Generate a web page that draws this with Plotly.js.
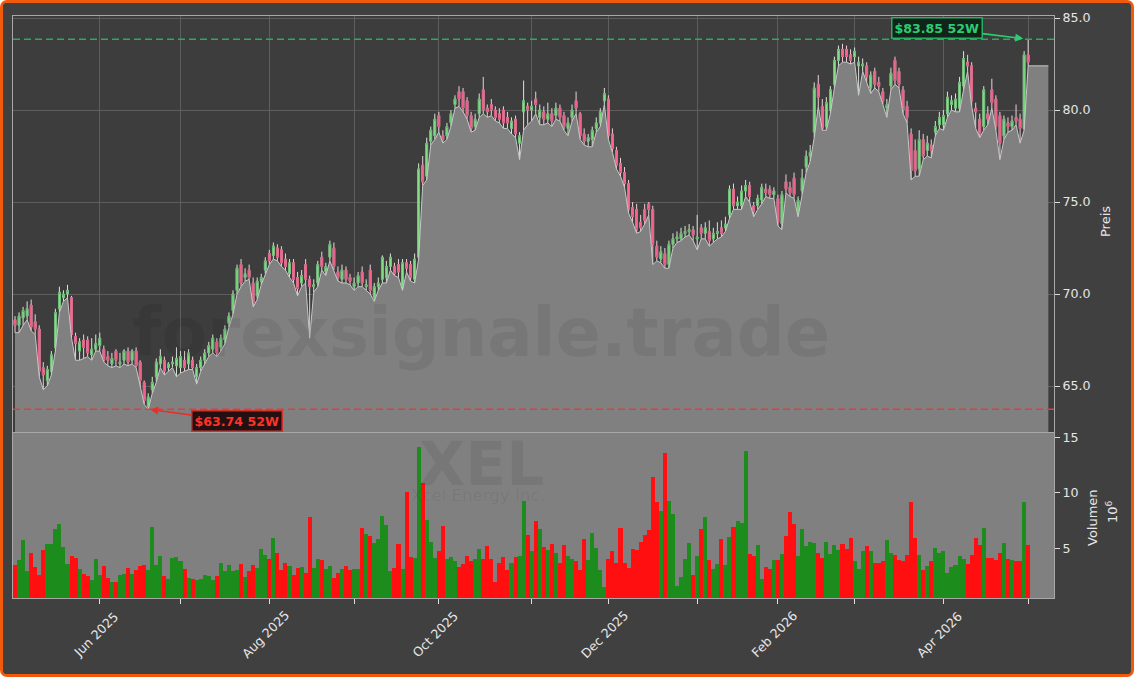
<!DOCTYPE html>
<html>
<head>
<meta charset="utf-8">
<script src="https://cdn.plot.ly/plotly-3.0.1.min.js"></script>
<style>
  html,body{margin:0;padding:0;background:#ffffff;}
  #wrap{width:1134px;height:677px;box-sizing:border-box;border:3px solid #f05a0a;border-radius:7px;background:#404040;overflow:hidden;}
  #chart{width:1128px;height:671px;}
</style>
</head>
<body>
<div id="wrap"><div id="chart"></div></div>
<script>
// ---- data (trading-day index 0 = 2025-05-01 ... 251 = 2026-05-01) ----
const openP = [
68.6,68.3,68.7,68.8,69.4,68.5,68.1,66.0,65.3,65.8,67.1,69.2,69.8,70.0,69.8,67.7,66.9,67.5,67.5,66.7,
67.0,67.2,67.0,66.6,66.2,66.9,66.2,66.4,66.9,66.4,66.9,66.3,65.2,63.9,64.8,65.5,66.2,66.4,66.0,66.2,
66.1,66.0,66.4,66.2,66.4,65.5,66.0,66.4,66.8,67.0,67.4,67.1,67.5,68.4,69.1,70.2,71.6,70.9,71.3,70.6,
69.9,70.7,71.3,72.2,72.1,72.5,72.4,71.9,71.1,71.7,70.9,70.6,71.6,70.8,70.4,70.6,72.0,71.2,72.0,72.5,
71.2,70.8,71.3,70.9,70.4,70.6,71.2,70.4,71.3,69.8,70.4,70.8,70.9,71.5,71.5,71.6,70.4,71.7,71.6,70.8,
72.0,77.0,76.4,78.3,78.6,79.7,78.6,78.6,79.3,80.3,81.0,81.0,80.5,79.7,79.1,79.8,81.1,80.1,80.3,80.0,
79.8,80.0,79.6,79.0,79.5,78.2,79.9,80.2,80.0,80.6,79.6,79.9,79.5,79.8,79.7,80.1,79.7,79.0,79.6,80.5,
79.8,78.7,78.3,78.4,79.0,79.3,80.5,80.6,78.7,77.8,77.1,76.6,76.0,74.7,74.6,73.9,74.6,74.9,74.6,72.6,
71.9,72.2,71.6,72.7,73.0,73.0,73.3,73.4,73.5,73.0,73.6,73.3,73.4,73.0,73.3,73.6,73.6,74.3,75.7,74.8,
74.8,75.6,75.9,74.8,74.8,75.1,75.7,75.7,75.4,75.2,73.8,76.1,75.8,76.3,74.4,75.6,76.9,77.5,78.8,81.4,
80.2,79.1,80.0,81.4,82.7,83.3,83.3,83.0,82.9,82.4,82.4,82.4,81.2,82.1,81.5,81.0,80.1,81.3,82.7,82.1,
81.1,80.2,78.7,77.8,76.8,78.4,77.8,78.1,78.8,79.2,79.2,79.8,80.3,80.1,80.1,81.3,82.6,82.4,80.1,79.5,
79.1,79.8,81.1,80.6,79.7,78.6,79.3,79.1,79.6,79.5,79.0,83.0];
const highP = [
68.8,69.0,69.3,69.6,69.7,68.9,68.3,66.3,66.1,66.9,69.2,70.4,70.2,70.5,69.9,67.9,67.6,67.8,67.7,67.6,
67.8,67.9,67.2,66.9,66.8,67.0,66.8,67.0,67.1,67.0,67.1,66.4,65.3,64.6,65.5,66.5,67.0,66.6,66.3,66.6,
67.1,66.9,66.9,67.0,66.6,66.2,66.6,67.0,67.4,67.8,67.6,67.8,68.3,69.0,70.2,71.6,71.9,71.4,71.6,70.9,
70.9,71.1,72.0,72.4,72.8,72.7,72.6,72.2,71.9,71.9,71.2,71.3,71.9,71.0,70.8,71.8,72.3,71.7,72.9,72.8,
71.5,71.6,71.5,71.1,70.9,71.2,71.5,70.8,71.6,70.6,70.9,72.1,71.8,72.2,71.7,71.9,71.9,71.9,71.8,72.2,
77.1,77.5,78.5,79.1,79.8,79.9,78.9,79.3,80.0,80.8,81.3,81.2,80.7,79.9,79.8,80.9,81.8,80.3,80.6,80.2,
80.1,80.2,79.9,79.6,79.7,78.8,81.6,80.4,80.5,81.0,80.3,80.2,80.4,80.1,80.4,80.3,79.9,79.6,80.3,81.0,
79.9,79.0,78.7,79.1,79.6,80.1,81.2,80.8,79.0,78.0,77.4,76.9,76.2,75.0,74.9,74.3,74.9,75.0,74.8,72.9,
72.6,72.5,72.9,73.3,73.4,73.6,73.7,73.8,73.7,74.3,73.8,73.9,74.0,73.6,73.9,74.0,74.2,75.9,76.0,75.3,
75.9,76.2,76.1,75.0,75.4,76.0,76.0,75.9,75.8,75.4,75.6,76.5,76.1,76.6,75.3,76.8,77.8,78.1,81.5,81.9,
80.6,80.7,81.3,82.9,83.5,83.6,83.5,83.3,83.4,82.9,82.8,82.6,82.1,82.3,81.8,81.2,80.6,82.3,82.9,82.3,
81.3,80.5,79.0,78.4,78.9,78.7,78.6,78.4,79.4,79.9,80.0,81.0,80.8,80.9,81.8,83.2,83.0,82.6,80.4,79.8,
81.3,80.2,81.7,80.8,79.9,79.7,79.6,79.7,80.3,79.8,83.2,83.85];
const lowP = [
67.9,67.9,68.3,68.6,68.0,67.8,65.5,64.8,65.0,65.6,66.9,69.0,69.6,69.8,67.6,66.4,66.4,66.5,66.6,66.4,
66.9,66.9,66.3,66.1,66.0,66.1,66.0,66.2,66.1,66.2,66.0,65.0,64.0,63.74,64.6,65.2,66.0,65.6,65.8,66.0,
65.5,65.7,65.8,65.9,65.9,65.1,65.8,66.2,66.6,66.8,66.6,66.9,67.3,68.2,68.9,70.0,70.4,70.7,70.8,69.3,
69.7,70.5,71.1,71.6,71.9,71.8,71.5,71.3,70.9,70.6,69.9,70.4,70.6,67.6,70.1,70.4,71.3,71.0,71.8,71.3,
70.7,70.6,70.6,70.5,70.2,70.4,70.4,70.2,70.0,69.6,70.2,70.6,70.6,71.3,71.0,70.9,70.2,71.2,70.7,70.6,
71.9,75.9,76.2,78.1,78.4,78.8,78.2,78.4,79.1,80.1,80.2,79.9,79.5,78.8,78.9,79.6,79.8,79.6,79.7,79.4,
79.3,79.0,79.0,78.7,78.5,77.3,78.9,79.2,79.4,79.8,79.2,79.2,79.3,79.1,79.5,79.4,78.9,78.6,79.4,79.8,
78.4,78.1,78.0,78.0,78.8,79.1,80.3,78.4,77.7,76.8,76.4,75.8,74.4,73.9,73.3,73.4,73.8,74.3,71.6,71.8,
71.7,71.4,71.4,72.5,72.8,72.9,73.1,73.2,72.9,72.4,73.0,73.0,72.6,72.8,73.0,73.1,73.4,74.1,74.6,74.6,
74.6,75.3,75.0,74.2,74.6,74.9,75.3,75.2,75.2,73.7,73.5,75.5,75.3,75.2,74.2,75.4,76.6,77.2,78.5,80.2,
78.9,78.9,79.8,81.2,82.4,82.6,82.6,82.5,82.6,80.8,82.1,81.5,80.9,81.2,81.0,80.3,79.6,81.1,81.4,81.2,
79.8,79.3,76.2,76.4,76.4,77.3,77.5,77.4,78.6,79.0,78.9,79.6,80.0,79.9,79.9,81.1,82.1,80.2,79.0,78.5,
78.9,79.2,80.1,78.9,77.3,78.4,78.8,78.9,79.2,78.2,78.9,82.4];
const closeP = [
68.3,68.8,69.1,69.2,68.2,68.1,65.8,65.6,65.9,66.7,69.0,70.1,70.0,70.2,67.8,67.3,67.4,67.1,66.8,67.0,
67.3,67.6,66.4,66.4,66.5,66.4,66.3,66.9,66.3,66.9,66.1,65.3,64.2,64.4,65.2,66.3,66.6,65.8,66.2,66.3,
66.5,66.6,66.0,66.8,66.0,66.0,66.4,66.8,67.2,67.6,66.8,67.6,68.1,68.8,70.0,71.4,70.6,71.1,70.9,69.5,
70.7,70.9,71.8,71.8,72.6,72.0,71.7,71.5,71.7,70.8,70.3,71.0,70.8,70.4,70.5,71.6,71.5,71.5,72.7,71.5,
70.9,71.3,70.8,70.7,70.6,71.0,70.6,70.5,70.2,70.4,70.6,72.0,71.5,72.0,71.1,71.2,71.7,71.4,70.9,71.9,
76.8,76.1,78.2,78.9,79.5,79.1,78.4,79.1,79.8,80.6,80.6,80.1,79.7,79.0,79.5,80.6,80.0,79.9,80.0,79.6,
79.5,79.3,79.3,79.4,78.7,78.6,80.5,80.0,80.2,80.3,80.0,79.5,79.8,79.4,80.1,79.6,79.1,79.3,80.0,80.1,
78.6,78.3,78.5,78.9,79.3,79.9,80.9,78.6,77.9,77.0,76.6,76.0,74.6,74.2,73.5,73.6,74.0,74.6,72.7,72.0,
72.3,71.6,72.7,73.0,73.1,73.3,73.4,73.5,73.2,73.1,73.3,73.6,72.9,73.3,73.4,73.3,73.8,75.7,74.8,75.0,
75.6,75.9,75.3,74.5,75.2,75.8,75.5,75.4,75.6,73.9,75.4,75.7,75.5,75.4,75.1,76.3,77.5,77.7,81.2,80.7,
79.0,80.4,81.1,82.7,83.3,82.9,82.9,82.7,83.2,82.6,82.5,81.8,81.9,81.4,81.3,80.5,80.3,82.0,81.6,81.4,
80.0,79.6,76.7,76.7,78.4,77.5,78.2,77.8,79.1,79.6,79.7,80.7,80.5,80.6,81.5,82.8,82.4,80.5,79.9,78.7,
81.1,79.5,80.4,79.1,78.2,79.5,79.1,79.4,79.4,79.0,83.0,82.6];
const volumeM = [
3.5,3.95,5.75,2.9,4.55,3.3,2.6,4.85,5.4,5.4,6.75,7.2,5.1,3.6,4.25,4.1,3.1,2.7,2.5,2.15,
4.0,2.6,3.4,2.3,1.9,1.95,2.6,2.7,3.2,2.7,3.0,3.4,3.5,3.0,6.9,3.5,4.3,2.5,2.2,4.1,
4.2,3.8,3.1,2.3,2.2,2.15,2.2,2.6,2.5,2.15,2.5,3.7,2.9,3.5,2.9,3.0,3.6,2.4,2.9,3.5,
3.2,4.9,4.35,4.0,5.9,4.6,3.0,3.7,3.4,2.6,3.2,3.3,2.8,7.85,3.2,4.0,3.95,3.1,3.4,2.3,
2.8,3.1,3.4,3.0,3.1,3.1,6.8,6.25,6.1,5.45,5.8,7.9,7.1,2.9,3.25,5.4,3.1,10.1,4.2,4.15,
14.1,10.9,7.55,5.6,4.1,4.7,7.0,4.0,4.2,3.8,3.3,3.55,4.3,3.85,4.0,4.9,4.0,5.2,4.0,1.95,
3.7,4.2,3.0,3.7,4.2,4.3,9.3,6.2,4.75,7.45,6.75,5.1,4.85,5.4,4.6,3.7,5.3,4.3,4.0,3.85,
3.0,5.8,3.9,6.4,5.0,3.0,1.5,4.0,4.7,3.7,6.8,3.7,3.25,4.9,4.85,5.6,6.2,6.6,11.4,9.2,
8.4,13.6,9.3,8.05,1.6,2.4,4.0,5.5,2.6,4.3,6.7,7.85,3.9,3.1,3.6,5.8,3.5,6.0,6.9,7.45,
7.25,13.8,4.5,4.3,5.3,2.2,3.3,3.1,3.9,3.9,4.45,6.1,8.3,7.2,4.3,6.75,5.2,5.6,5.5,4.6,
4.1,5.6,4.45,5.3,4.85,5.4,4.9,5.9,3.8,3.1,4.75,5.2,4.7,3.7,3.7,3.85,5.75,4.6,4.4,3.9,
3.8,4.4,9.2,5.9,4.4,3.0,3.4,3.85,5.0,4.6,4.7,2.8,3.3,3.5,4.3,4.0,3.6,4.4,5.9,5.3,
6.8,4.1,4.1,3.9,4.6,5.5,4.0,3.9,3.85,3.8,9.2,5.3];
const tickIdx  = [21,41,63,84,105,128,147,169,189,208,230,251];
const tickText = ['Jun 2025','','Aug 2025','','Oct 2025','','Dec 2025','','Feb 2026','','Apr 2026',''];
const high52 = 83.85, low52 = 63.74;
const priceTicks = [65,70,75,80,85];
const volTicks = [5,10,15];
const siteText = 'forexsignale.trade';
const tickerText = 'XEL';
const companyText = 'Xcel Energy Inc.';
const priceLabel = 'Preis';
const volLabel = 'Volumen';

// ---- derived ----
const n = closeP.length;
const idx = closeP.map((_, i) => i);
const hi52Idx = highP.indexOf(Math.max(...highP));
const lo52Idx = lowP.indexOf(Math.min(...lowP));
const bodyHi = openP.map((o, i) => Math.max(o, closeP[i]));
const bodyLo = openP.map((o, i) => Math.min(o, closeP[i]));
const volColors = closeP.map((c, i) => c >= openP[i] ? '#1c8c1c' : '#ff0f0f');
const areaX = idx.concat([n - 1 + 5]);
const areaY = lowP.concat([lowP[n - 1]]);

const FONT = 'DejaVu Sans, Liberation Sans, sans-serif';
const TXT = '#e6e6e6';
const xr = [-0.5, 257.4];

// plot area (paper) spans page x 13..1054, y 16..598 ; wrap border 3px
const PX0 = 13, PX1 = 1054, PY0 = 16, PY1 = 598;
const px = x => (x - PX0) / (PX1 - PX0);
const py = y => (PY1 - y) / (PY1 - PY0);

const traces = [
  { type: 'scatter', x: areaX, y: areaY, mode: 'lines', fill: 'tozeroy',
    fillcolor: '#808080', line: { color: '#c8c8c8', width: 1 }, xaxis: 'x', yaxis: 'y', hoverinfo: 'skip' },
  { type: 'candlestick', x: idx, open: openP, high: highP, low: lowP, close: closeP,
    increasing: { line: { color: '#d9e6d9', width: 1 }, fillcolor: '#90ee90' },
    decreasing: { line: { color: '#ecd0d8', width: 1 }, fillcolor: '#ff6b95' },
    xaxis: 'x', yaxis: 'y', hoverinfo: 'skip' },
  { type: 'candlestick', x: idx, open: openP, high: bodyHi, low: bodyLo, close: closeP,
    increasing: { line: { color: '#4cae58', width: 0.7 }, fillcolor: '#92ea92' },
    decreasing: { line: { color: '#d44a74', width: 0.7 }, fillcolor: '#ff6f98' },
    xaxis: 'x', yaxis: 'y', hoverinfo: 'skip' },
  { type: 'bar', x: idx, y: volumeM, marker: { color: volColors, line: { width: 0 } },
    width: 1, xaxis: 'x2', yaxis: 'y2', hoverinfo: 'skip' }
];

const annotations = [];
tickIdx.forEach((t, k) => {
  if (!tickText[k]) return;
  annotations.push({ xref: 'x2', yref: 'paper', x: t - 1, y: py(634), text: tickText[k],
    showarrow: false, textangle: -45, xanchor: 'center', yanchor: 'middle',
    font: { family: FONT, size: 12.6, color: TXT } });
});
annotations.push({ xref: 'paper', yref: 'paper', x: px(1106), y: py(222), text: priceLabel, showarrow: false,
  textangle: -90, font: { family: FONT, size: 13, color: TXT }, xanchor: 'center', yanchor: 'middle' });
annotations.push({ xref: 'paper', yref: 'paper', x: px(1092), y: py(518), text: volLabel, showarrow: false,
  textangle: -90, font: { family: FONT, size: 13, color: TXT }, xanchor: 'center', yanchor: 'middle' });
annotations.push({ xref: 'paper', yref: 'paper', x: px(1112), y: py(512), text: '10<sup>6</sup>', showarrow: false,
  textangle: -90, font: { family: FONT, size: 13, color: TXT }, xanchor: 'center', yanchor: 'middle' });
annotations.push({ xref: 'paper', yref: 'paper', x: px(481), y: py(333), text: '<b>' + siteText + '</b>', showarrow: false,
  font: { family: FONT, size: 67, color: 'rgba(0,0,0,0.07)' }, xanchor: 'center', yanchor: 'middle' });
annotations.push({ xref: 'paper', yref: 'paper', x: px(481), y: py(464), text: '<b>' + tickerText + '</b>', showarrow: false,
  font: { family: FONT, size: 60, color: 'rgba(0,0,0,0.07)' }, xanchor: 'center', yanchor: 'middle' });
annotations.push({ xref: 'paper', yref: 'paper', x: px(478), y: py(495), text: companyText, showarrow: false,
  font: { family: FONT, size: 16.6, color: 'rgba(0,0,0,0.07)' }, xanchor: 'center', yanchor: 'middle' });
annotations.push({ xref: 'x', yref: 'y', x: hi52Idx, y: high52,
  text: '<b>$' + high52.toFixed(2) + ' 52W</b>', showarrow: true, ax: -91, ay: -11,
  arrowhead: 2, arrowsize: 1, arrowwidth: 1.6, arrowcolor: '#2ecc71', standoff: 5,
  font: { family: FONT, size: 12.6, color: '#2ecc71' }, bgcolor: '#10241a',
  bordercolor: '#27ae60', borderwidth: 1.5, borderpad: 2 });
annotations.push({ xref: 'x', yref: 'y', x: lo52Idx, y: low52,
  text: '<b>$' + low52.toFixed(2) + ' 52W</b>', showarrow: true, ax: 89, ay: 12,
  arrowhead: 2, arrowsize: 1, arrowwidth: 1.6, arrowcolor: '#e8302a', standoff: 2,
  font: { family: FONT, size: 12.6, color: '#ff3228' }, bgcolor: '#241010',
  bordercolor: '#d0312d', borderwidth: 1.5, borderpad: 2 });

const shapes = [
  { type: 'rect', xref: 'x2 domain', yref: 'y2 domain', x0: 0, x1: 1, y0: 0, y1: 1,
    fillcolor: '#808080', line: { width: 0 }, layer: 'below' },
  { type: 'line', xref: 'x domain', yref: 'y', x0: 0, x1: 1, y0: high52, y1: high52,
    line: { color: '#2fa862', width: 1.5, dash: '7px,4px' } },
  { type: 'line', xref: 'x domain', yref: 'y', x0: 0, x1: 1, y0: low52, y1: low52,
    line: { color: '#d9413a', width: 1.5, dash: '7px,4px' } }
];

const axLine = '#a8a8a8';
const layout = {
  width: 1128, height: 671,
  margin: { l: PX0 - 3, r: 1128 - (PX1 - 3), t: PY0 - 3, b: 671 - (PY1 - 3), pad: 0 },
  paper_bgcolor: '#404040', plot_bgcolor: '#3d3d3d',
  showlegend: false, bargap: 0, boxgap: 0.38, hovermode: false,
  font: { family: FONT, color: TXT, size: 12.6 },
  xaxis: { domain: [0, 1], range: xr, anchor: 'y', tickvals: tickIdx, showticklabels: false,
    ticks: '', showgrid: true, gridcolor: '#5e5e5e', gridwidth: 1, zeroline: false,
    showline: true, mirror: true, linecolor: axLine, linewidth: 1, rangeslider: { visible: false }, fixedrange: true },
  xaxis2: { domain: [0, 1], range: xr, anchor: 'y2', tickvals: tickIdx, showticklabels: false,
    ticks: 'outside', ticklen: 5, tickwidth: 1, tickcolor: '#dddddd', showgrid: false, zeroline: false,
    showline: true, mirror: true, linecolor: axLine, linewidth: 1, fixedrange: true },
  yaxis: { domain: [0.2852, 1], range: [62.5, 85.11], anchor: 'x', side: 'right', tickvals: priceTicks,
    tickformat: '.1f', ticks: 'outside', ticklen: 5, tickwidth: 1, tickcolor: '#dddddd',
    tickfont: { family: FONT, size: 12.6, color: TXT }, showgrid: true, gridcolor: '#5e5e5e', gridwidth: 1,
    zeroline: false, showline: true, mirror: true, linecolor: axLine, linewidth: 1, fixedrange: true },
  yaxis2: { domain: [0, 0.2835], range: [0.5, 15.4], anchor: 'x2', side: 'right', tickvals: volTicks,
    ticks: 'outside', ticklen: 5, tickwidth: 1, tickcolor: '#dddddd',
    tickfont: { family: FONT, size: 12.6, color: TXT }, showgrid: false, zeroline: false,
    showline: true, mirror: true, linecolor: axLine, linewidth: 1, fixedrange: true },
  annotations: annotations,
  shapes: shapes
};

Plotly.newPlot('chart', traces, layout, { displayModeBar: false, staticPlot: true });
</script>
</body>
</html>
